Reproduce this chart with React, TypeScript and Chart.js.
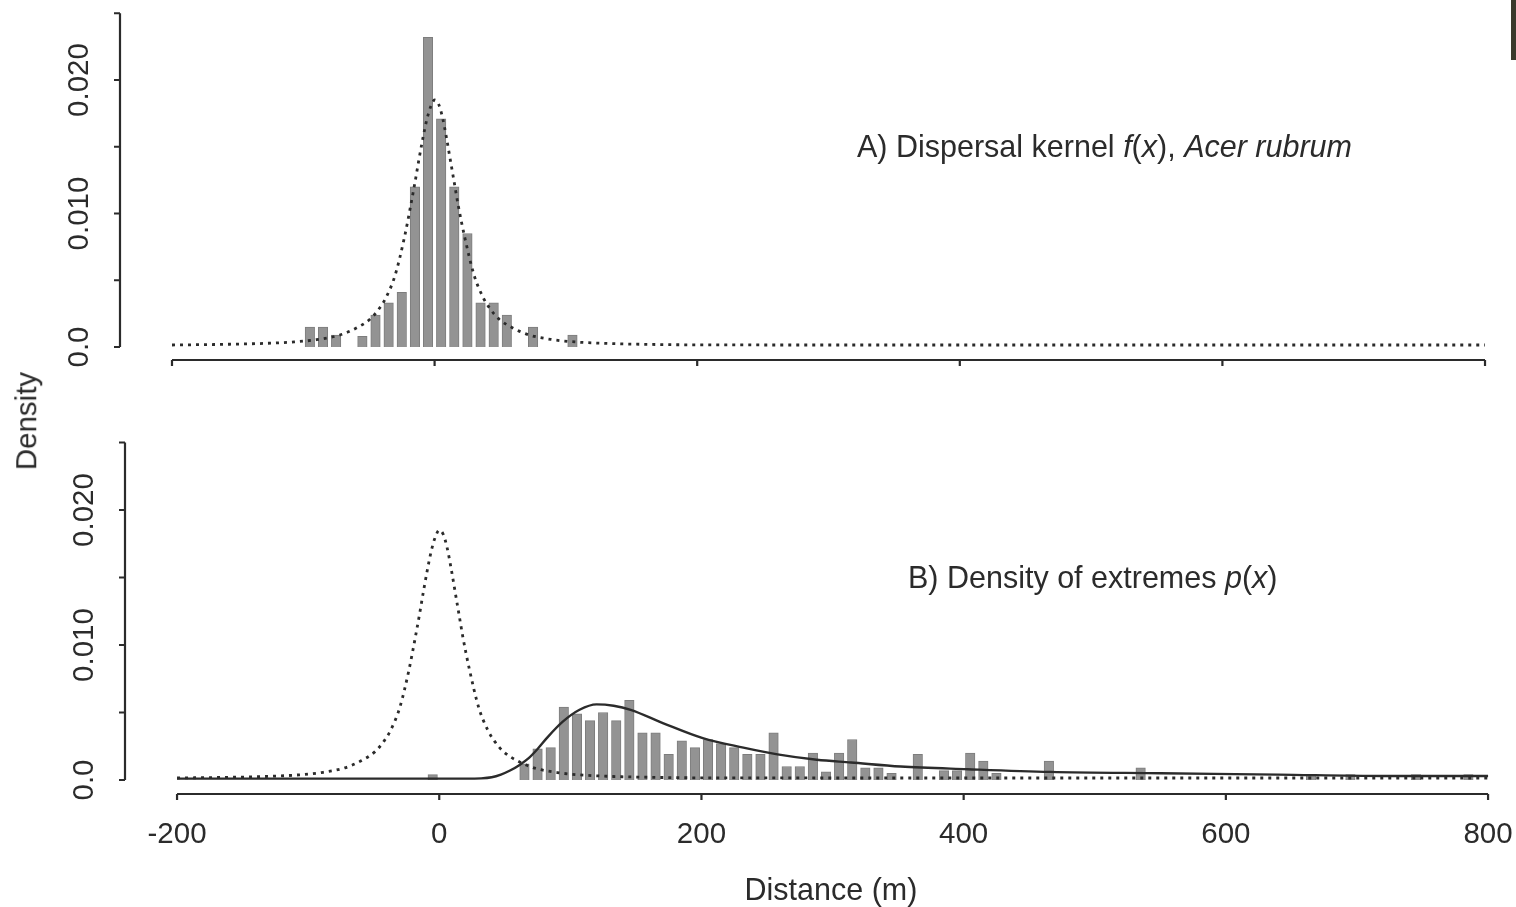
import React, { useEffect, useRef } from "react";
import { Chart, registerables } from "chart.js";

Chart.register(...registerables);

// ---------- data ----------
const X_TICKS = [-200, 0, 200, 400, 600, 800];
const X_TICK_LABELS = ["-200", "0", "200", "400", "600", "800"];
const Y_TICKS = [0, 0.005, 0.01, 0.015, 0.02, 0.025];
const Y_TICK_LABELS = ["0.0", "", "0.010", "", "0.020", ""];

// Panel A histogram (bin centres, m) and densities
const TOP_BIN_CENTERS = [-95, -85, -75, -55, -45, -35, -25, -15, -5, 5, 15, 25, 35, 45, 55, 75, 105];
const TOP_BIN_DENSITY = [0.0015, 0.0015, 0.0009, 0.0008, 0.0024, 0.0033, 0.0041, 0.012, 0.0232, 0.0171, 0.012, 0.0085, 0.0033, 0.0033, 0.0024, 0.0015, 0.0009];

// Panel B histogram
const BOTTOM_BIN_CENTERS = [-5, 65, 75, 85, 95, 105, 115, 125, 135, 145, 155, 165, 175, 185, 195, 205, 215, 225, 235, 245, 255, 265, 275, 285, 295, 305, 315, 325, 335, 345, 365, 385, 395, 405, 415, 425, 465, 535, 665, 695, 745, 785];
const BOTTOM_BIN_DENSITY = [0.0004, 0.0012, 0.0023, 0.0024, 0.0054, 0.0049, 0.0044, 0.005, 0.0044, 0.0059, 0.0035, 0.0035, 0.0019, 0.0029, 0.0024, 0.003, 0.0027, 0.0024, 0.0019, 0.0019, 0.0035, 0.001, 0.001, 0.002, 0.0006, 0.002, 0.003, 0.0009, 0.0009, 0.0005, 0.0019, 0.0007, 0.0007, 0.002, 0.0014, 0.0005, 0.0014, 0.0009, 0.0004, 0.0004, 0.0004, 0.0004];

// Dispersal kernel f(x) (dashed curve)
const KERNEL_X = [-200, -160, -130, -107, -90, -72, -60, -49, -42, -37, -30, -23, -18, -15, -12, -9, -6, -3, 0, 3, 6, 9, 12, 15, 18, 23, 30, 37, 42, 49, 60, 72, 90, 107, 130, 160, 200, 300, 500, 800];
const KERNEL_Y = [0.00015, 0.0002, 0.00027, 0.00038, 0.00055, 0.0009, 0.0014, 0.0021, 0.0029, 0.0037, 0.0054, 0.0082, 0.0107, 0.0123, 0.014, 0.0156, 0.017, 0.018, 0.0185, 0.0182, 0.0172, 0.0157, 0.014, 0.0123, 0.0106, 0.0082, 0.0054, 0.0037, 0.0029, 0.0021, 0.0014, 0.0009, 0.00055, 0.00038, 0.00027, 0.0002, 0.00016, 0.00015, 0.00015, 0.00015];

// Density of extremes p(x) (solid curve)
const EXTREME_X = [-200, 0, 20, 32, 40, 47, 54, 61, 68, 75, 82, 94, 107, 120, 133, 146, 171, 201, 232, 258, 288, 314, 352, 403, 466, 550, 640, 720, 800];
const EXTREME_Y = [0.0001, 0.0001, 0.0001, 0.00012, 0.0002, 0.0004, 0.0007, 0.0011, 0.0016, 0.0023, 0.0031, 0.0043, 0.0052, 0.0056, 0.0055, 0.0052, 0.0042, 0.0031, 0.0024, 0.0019, 0.0015, 0.0013, 0.001, 0.0008, 0.0006, 0.0005, 0.0004, 0.0003, 0.0003];

// ---------- styling ----------
const INK = "#2b2b2b";
const FONT = '"Liberation Sans", Arial, Helvetica, sans-serif';

type PanelProps = {
  top: number;
  height: number;
  pad: { left: number; right: number; top: number; bottom: number };
  xRange: [number, number];
  yRange: [number, number];
  bins: number[];
  binValues: number[];
  showSolid: boolean;
  showXLabels: boolean;
  yLabelOffset: number;
};

const pts = (xs: number[], ys: number[]) => xs.map((x, i) => ({ x, y: ys[i] }));

function Panel(p: PanelProps) {
  const ref = useRef<HTMLCanvasElement | null>(null);
  useEffect(() => {
    if (!ref.current) return;
    const axesPlugin = {
      id: "rAxes",
      afterDraw(chart: any) {
        const { ctx, chartArea, scales } = chart;
        const xs = scales.x;
        const ys = scales.y;
        ctx.save();
        ctx.strokeStyle = INK;
        ctx.lineWidth = 2.2;
        ctx.beginPath();
        const ax = chartArea.left;
        ctx.moveTo(ax, ys.getPixelForValue(Y_TICKS[0]));
        ctx.lineTo(ax, ys.getPixelForValue(Y_TICKS[Y_TICKS.length - 1]));
        Y_TICKS.forEach((v) => {
          const py = ys.getPixelForValue(v);
          ctx.moveTo(ax - 6, py);
          ctx.lineTo(ax, py);
        });
        const ay = chartArea.bottom;
        ctx.moveTo(xs.getPixelForValue(X_TICKS[0]), ay);
        ctx.lineTo(xs.getPixelForValue(X_TICKS[X_TICKS.length - 1]), ay);
        X_TICKS.forEach((v) => {
          const px = xs.getPixelForValue(v);
          ctx.moveTo(px, ay);
          ctx.lineTo(px, ay + 6);
        });
        ctx.stroke();

        ctx.fillStyle = INK;
        ctx.font = `29.5px ${FONT}`;
        ctx.textAlign = "center";
        ctx.textBaseline = "middle";
        Y_TICKS.forEach((v, i) => {
          const lab = Y_TICK_LABELS[i];
          if (!lab) return;
          ctx.save();
          ctx.translate(ax - p.yLabelOffset, ys.getPixelForValue(v));
          ctx.rotate(-Math.PI / 2);
          ctx.fillText(lab, 0, 0);
          ctx.restore();
        });
        if (p.showXLabels) {
          X_TICKS.forEach((v, i) => {
            ctx.fillText(X_TICK_LABELS[i], xs.getPixelForValue(v), ay + 41);
          });
        }
        ctx.restore();
      },
    };

    const datasets: any[] = [
      {
        type: "line",
        data: pts(KERNEL_X, KERNEL_Y),
        borderColor: INK,
        borderWidth: 2.8,
        borderDash: [3, 5],
        borderCapStyle: "butt",
        pointRadius: 0,
        cubicInterpolationMode: "monotone",
        fill: false,
        order: 0,
      },
    ];
    if (p.showSolid) {
      datasets.push({
        type: "line",
        data: pts(EXTREME_X, EXTREME_Y),
        borderColor: INK,
        borderWidth: 2.4,
        pointRadius: 0,
        cubicInterpolationMode: "monotone",
        fill: false,
        order: 0,
      });
    }
    datasets.push({
      type: "bar",
      data: pts(p.bins, p.binValues),
      backgroundColor: "#939393",
      borderColor: "#7d7d7d",
      borderWidth: 1,
      barThickness: 9.5,
      order: 1,
    });

    const chart = new Chart(ref.current, {
      type: "bar",
      data: { datasets },
      plugins: [axesPlugin],
      options: {
        animation: false,
        responsive: false,
        devicePixelRatio: 1,
        events: [],
        layout: { padding: p.pad },
        plugins: { legend: { display: false }, tooltip: { enabled: false } },
        scales: {
          x: { type: "linear", min: p.xRange[0], max: p.xRange[1], display: false, offset: false },
          y: { type: "linear", min: p.yRange[0], max: p.yRange[1], display: false },
        },
      } as any,
    });
    return () => chart.destroy();
  }, []);
  return (
    <canvas
      ref={ref}
      width={1516}
      height={p.height}
      style={{ position: "absolute", left: 0, top: p.top, width: 1516, height: p.height }}
    />
  );
}

const textStyle: React.CSSProperties = {
  position: "absolute",
  fontFamily: FONT,
  fontSize: 30.5,
  lineHeight: 1,
  color: INK,
  whiteSpace: "nowrap",
};

export default function App() {
  return (
    <div style={{ position: "fixed", left: 0, top: 0, width: 1516, height: 907, background: "#fff", overflow: "hidden" }}>
      <Panel
        top={0}
        height={440}
        pad={{ left: 120, right: 26, top: 10, bottom: 80 }}
        xRange={[-239.6, 803.8]}
        yRange={[-0.000974, 0.025243]}
        bins={TOP_BIN_CENTERS}
        binValues={TOP_BIN_DENSITY}
        showSolid={false}
        showXLabels={false}
        yLabelOffset={40}
      />
      <Panel
        top={430}
        height={477}
        pad={{ left: 125, right: 24, top: 10, bottom: 113 }}
        xRange={[-239.7, 803.0]}
        yRange={[-0.001037, 0.025185]}
        bins={BOTTOM_BIN_CENTERS}
        binValues={BOTTOM_BIN_DENSITY}
        showSolid={true}
        showXLabels={true}
        yLabelOffset={40}
      />
      <div style={{ ...textStyle, left: 857, top: 146, transform: "translateY(-50%)" }}>
        A) Dispersal kernel <i>f</i>(<i>x</i>), <i>Acer rubrum</i>
      </div>
      <div style={{ ...textStyle, left: 908, top: 577, transform: "translateY(-50%)" }}>
        B) Density of extremes <i>p</i>(<i>x</i>)
      </div>
      <div style={{ ...textStyle, fontSize: 29.5, left: 26, top: 421, transform: "translate(-50%, -50%) rotate(-90deg)" }}>Density</div>
      <div style={{ ...textStyle, left: 831, top: 889, transform: "translate(-50%, -50%)" }}>Distance (m)</div>
      <div style={{ position: "absolute", left: 1511, top: 0, width: 5, height: 60, background: "#3b3a2c" }} />
    </div>
  );
}
